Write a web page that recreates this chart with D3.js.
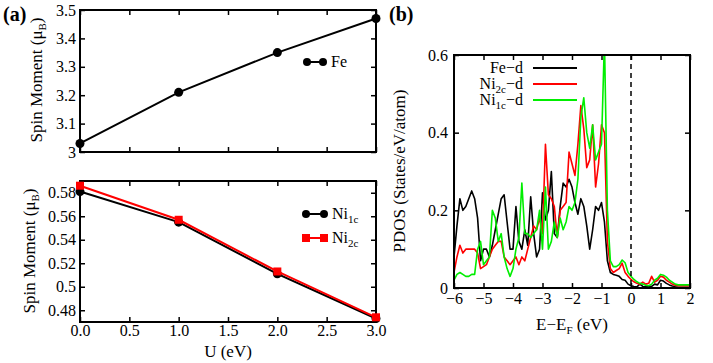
<!DOCTYPE html>
<html>
<head>
<meta charset="utf-8">
<script src="https://cdn.jsdelivr.net/npm/d3@7"></script>
<style>
  body { margin: 0; background: #fff; }
  svg text { font-family: "Liberation Serif", serif; fill: #000; }
  .tick line { stroke: #000; stroke-width: 1.5; }
</style>
</head>
<body>
<script>
// ---- panel (a) data ----
var uValues = [0, 1, 2, 3];
var feMoment = [3.03, 3.21, 3.35, 3.47];
var ni1cMoment = [0.581, 0.555, 0.511, 0.473];
var ni2cMoment = [0.586, 0.557, 0.513, 0.474];

var uTicks = [0, 0.5, 1, 1.5, 2, 2.5, 3];
var feTicks = [3, 3.1, 3.2, 3.3, 3.4, 3.5];
var niTicks = [0.48, 0.5, 0.52, 0.54, 0.56, 0.58];

// ---- panel (b) data ----
var energy = [
  -6.0, -5.9, -5.8, -5.7, -5.6, -5.5, -5.4, -5.3, -5.2, -5.1,
  -5.0, -4.9, -4.8, -4.7, -4.6, -4.5, -4.4, -4.3, -4.2, -4.1,
  -4.0, -3.9, -3.8, -3.7, -3.6, -3.5, -3.4, -3.3, -3.2, -3.1,
  -3.0, -2.9, -2.8, -2.7, -2.6, -2.5, -2.4, -2.3, -2.2, -2.1,
  -2.0, -1.9, -1.8, -1.7, -1.6, -1.5, -1.4, -1.3, -1.2, -1.1,
  -1.0, -0.9, -0.8, -0.7, -0.6, -0.5, -0.4, -0.3, -0.2, -0.1,
  0.0, 0.1, 0.2, 0.3, 0.4, 0.5, 0.6, 0.7, 0.8, 0.9,
  1.0, 1.1, 1.2, 1.3, 1.4, 1.5, 1.6, 1.7, 1.8, 1.9, 2.0
];
var feD = [
  0.08, 0.16, 0.23, 0.20, 0.21, 0.23, 0.25, 0.23, 0.18, 0.07,
  0.10, 0.10, 0.08, 0.11, 0.15, 0.19, 0.23, 0.24, 0.17, 0.10,
  0.10, 0.21, 0.12, 0.10, 0.15, 0.11, 0.235, 0.14, 0.08, 0.10,
  0.245, 0.175, 0.20, 0.30, 0.14, 0.13, 0.21, 0.27, 0.26, 0.28,
  0.26, 0.22, 0.19, 0.23, 0.21, 0.16, 0.10, 0.15, 0.21, 0.20,
  0.22, 0.17, 0.07, 0.04, 0.035, 0.033, 0.03, 0.022, 0.02, 0.01,
  0.006, 0.004, 0.003, 0.01, 0.004, 0.003, 0.005, 0.004, 0.01, 0.008,
  0.02, 0.018, 0.012, 0.008, 0.005, 0.003, 0.002, 0.002, 0.002, 0.002, 0.002
];
var ni2cD = [
  0.04, 0.08, 0.11, 0.09, 0.10, 0.10, 0.10, 0.10, 0.09, 0.05,
  0.055, 0.06, 0.08, 0.10, 0.11, 0.12, 0.12, 0.08, 0.07, 0.06,
  0.07, 0.08, 0.06, 0.08, 0.07, 0.10, 0.13, 0.16, 0.15, 0.18,
  0.14, 0.37, 0.24, 0.23, 0.21, 0.13, 0.20, 0.21, 0.22, 0.35,
  0.32, 0.29, 0.37, 0.47, 0.41, 0.31, 0.33, 0.42, 0.26, 0.32,
  0.42, 0.40, 0.12, 0.05, 0.04, 0.045, 0.05, 0.064, 0.04, 0.03,
  0.022, 0.016, 0.012, 0.01, 0.015, 0.01, 0.012, 0.03, 0.015, 0.02,
  0.03, 0.028, 0.02, 0.015, 0.01, 0.007, 0.006, 0.006, 0.006, 0.006, 0.006
];
var ni1cD = [
  0.02, 0.035, 0.04, 0.035, 0.03, 0.03, 0.035, 0.035, 0.10, 0.12,
  0.06, 0.07, 0.08, 0.20, 0.18, 0.12, 0.14, 0.08, 0.05, 0.03,
  0.05, 0.10, 0.13, 0.27, 0.14, 0.14, 0.13, 0.14, 0.15, 0.20,
  0.10, 0.26, 0.10, 0.12, 0.17, 0.13, 0.18, 0.15, 0.17, 0.21,
  0.20, 0.22, 0.28, 0.44, 0.49, 0.40, 0.36, 0.42, 0.33, 0.35,
  0.37, 0.64, 0.20, 0.07, 0.055, 0.055, 0.06, 0.072, 0.065, 0.04,
  0.03, 0.022, 0.016, 0.012, 0.01, 0.007, 0.006, 0.01, 0.02, 0.025,
  0.035, 0.033, 0.028, 0.02, 0.015, 0.01, 0.008, 0.008, 0.008, 0.008, 0.008
];
var eTicks = [-6, -5, -4, -3, -2, -1, 0, 1, 2];
var pdosTicks = [0, 0.2, 0.4, 0.6];

var SERIF = '"Liberation Serif", serif';

var svg = d3.select('body').append('svg')
  .attr('width', 713).attr('height', 363)
  .style('font-family', SERIF);

// draws four inward-tick axes and a frame around a panel
function drawFrame(g, x, y, xTicks, yTicks, xLabels, yPad, xPad) {
  var x0 = x.range()[0], x1 = x.range()[1];
  var y0 = y.range()[0], y1 = y.range()[1];
  var bottom = d3.axisBottom(x).tickValues(xTicks).tickSize(-5).tickPadding(xPad);
  if (!xLabels) bottom.tickFormat('');
  g.append('g').attr('transform', 'translate(0,' + y0 + ')').call(bottom);
  g.append('g').attr('transform', 'translate(0,' + y1 + ')')
    .call(d3.axisTop(x).tickValues(xTicks).tickSize(-5).tickFormat(''));
  g.append('g').attr('transform', 'translate(' + x0 + ',0)')
    .call(d3.axisLeft(y).tickValues(yTicks).tickSize(-5).tickPadding(yPad).tickFormat(d3.format('')));
  g.append('g').attr('transform', 'translate(' + x1 + ',0)')
    .call(d3.axisRight(y).tickValues(yTicks).tickSize(-5).tickFormat(''));
  g.selectAll('.domain').remove();
  g.selectAll('g').attr('font-size', 16).style('font-family', SERIF);
  g.selectAll('.tick text').style('font-family', SERIF);
  g.append('rect')
    .attr('x', x0).attr('y', y1).attr('width', x1 - x0).attr('height', y0 - y1)
    .attr('fill', 'none').attr('stroke', '#000').attr('stroke-width', 2);
}

function yTitle(cx, cy, main, sub) {
  var t = svg.append('text')
    .attr('transform', 'translate(' + cx + ',' + cy + ') rotate(-90)')
    .attr('text-anchor', 'middle').attr('font-size', 17);
  t.append('tspan').text(main);
  if (sub) {
    t.append('tspan').attr('dy', 4).attr('font-size', 11).text(sub);
    t.append('tspan').attr('dy', -4).text(')');
  }
  return t;
}

// ---------- panel (a), top ----------
var xA = d3.scaleLinear().domain([0, 3]).range([80, 376]);
var yFe = d3.scaleLinear().domain([3, 3.5]).range([152, 10]);
var gFe = svg.append('g');
drawFrame(gFe, xA, yFe, uTicks, feTicks, false, 4, 3);

gFe.append('path')
  .datum(uValues.map(function(u, i) { return [u, feMoment[i]]; }))
  .attr('fill', 'none').attr('stroke', '#000').attr('stroke-width', 2)
  .attr('d', d3.line().x(function(d) { return xA(d[0]); }).y(function(d) { return yFe(d[1]); }));
gFe.selectAll('circle.fe')
  .data(uValues)
  .enter().append('circle')
  .attr('cx', function(d) { return xA(d); })
  .attr('cy', function(d, i) { return yFe(feMoment[i]); })
  .attr('r', 4.5).attr('fill', '#000');

yTitle(42, 80, 'Spin Moment (\u03bc', 'B');

// legend
var lg1 = svg.append('g');
lg1.append('line').attr('x1', 307).attr('x2', 323).attr('y1', 62).attr('y2', 62)
  .attr('stroke', '#000').attr('stroke-width', 2);
lg1.selectAll('circle').data([307, 323]).enter().append('circle')
  .attr('cx', function(d) { return d; }).attr('cy', 62).attr('r', 4).attr('fill', '#000');
lg1.append('text').attr('x', 331).attr('y', 67).attr('font-size', 16).text('Fe');

// ---------- panel (a), bottom ----------
var yNi = d3.scaleLinear().domain([0.47, 0.59]).range([322, 181]);
var gNi = svg.append('g');
drawFrame(gNi, xA, yNi, uTicks, niTicks, true, 4, 3);

var niLine = d3.line().x(function(d) { return xA(d[0]); }).y(function(d) { return yNi(d[1]); });
gNi.append('path')
  .datum(uValues.map(function(u, i) { return [u, ni1cMoment[i]]; }))
  .attr('fill', 'none').attr('stroke', '#000').attr('stroke-width', 2).attr('d', niLine);
gNi.selectAll('circle.ni1c')
  .data(uValues)
  .enter().append('circle')
  .attr('cx', function(d) { return xA(d); })
  .attr('cy', function(d, i) { return yNi(ni1cMoment[i]); })
  .attr('r', 4.5).attr('fill', '#000');
gNi.append('path')
  .datum(uValues.map(function(u, i) { return [u, ni2cMoment[i]]; }))
  .attr('fill', 'none').attr('stroke', '#ff0000').attr('stroke-width', 2).attr('d', niLine);
gNi.selectAll('rect.ni2c')
  .data(uValues)
  .enter().append('rect')
  .attr('x', function(d) { return xA(d) - 4; })
  .attr('y', function(d, i) { return yNi(ni2cMoment[i]) - 4; })
  .attr('width', 8).attr('height', 8).attr('fill', '#ff0000');

yTitle(35, 251, 'Spin Moment (\u03bc', 'B');
svg.append('text').attr('x', 228).attr('y', 357).attr('text-anchor', 'middle')
  .attr('font-size', 17).text('U (eV)');

// legend
var lg2 = svg.append('g');
lg2.append('line').attr('x1', 306).attr('x2', 324).attr('y1', 214).attr('y2', 214)
  .attr('stroke', '#000').attr('stroke-width', 2);
lg2.selectAll('circle').data([306, 324]).enter().append('circle')
  .attr('cx', function(d) { return d; }).attr('cy', 214).attr('r', 4).attr('fill', '#000');
lg2.append('line').attr('x1', 306).attr('x2', 324).attr('y1', 238).attr('y2', 238)
  .attr('stroke', '#ff0000').attr('stroke-width', 2);
lg2.selectAll('rect').data([306, 324]).enter().append('rect')
  .attr('x', function(d) { return d - 4; }).attr('y', 234).attr('width', 8).attr('height', 8)
  .attr('fill', '#ff0000');
[['1c', 219], ['2c', 243]].forEach(function(s) {
  var t = lg2.append('text').attr('x', 332).attr('y', s[1]).attr('font-size', 16);
  t.append('tspan').text('Ni');
  t.append('tspan').attr('dy', 4).attr('font-size', 11).text(s[0]);
});

// ---------- panel (b) ----------
var xB = d3.scaleLinear().domain([-6, 2]).range([454, 690]);
var yB = d3.scaleLinear().domain([0, 0.6]).range([288, 55]);
var gB = svg.append('g');
gB.append('clipPath').attr('id', 'clipB').append('rect')
  .attr('x', 454).attr('y', 55).attr('width', 236).attr('height', 233);

var pdos = [
  { name: 'Fe', sub: '', values: feD, color: '#000000' },
  { name: 'Ni', sub: '2c', values: ni2cD, color: '#ff0000' },
  { name: 'Ni', sub: '1c', values: ni1cD, color: '#00ee00' }
];
var pdosLine = d3.line()
  .x(function(d, i) { return xB(energy[i]); })
  .y(function(d) { return yB(d); });
gB.append('g').attr('clip-path', 'url(#clipB)')
  .selectAll('path')
  .data(pdos)
  .enter().append('path')
  .attr('fill', 'none')
  .attr('stroke', function(d) { return d.color; })
  .attr('stroke-width', 1.6)
  .attr('stroke-linejoin', 'round')
  .attr('d', function(d) { return pdosLine(d.values); });

gB.append('line')
  .attr('x1', xB(0)).attr('x2', xB(0)).attr('y1', yB(0.6)).attr('y2', yB(0))
  .attr('stroke', '#000').attr('stroke-width', 1.5).attr('stroke-dasharray', '5,4');

drawFrame(gB, xB, yB, eTicks, pdosTicks, true, 6, 5);

// legend
var lgB = gB.selectAll('g.leg').data(pdos).enter().append('g')
  .attr('transform', function(d, i) { return 'translate(0,' + (68 + i * 16) + ')'; });
lgB.append('line').attr('x1', 533).attr('x2', 577).attr('y1', 0).attr('y2', 0)
  .attr('stroke', function(d) { return d.color; }).attr('stroke-width', 2);
lgB.each(function(d) {
  var t = d3.select(this).append('text').attr('x', 523).attr('y', 5)
    .attr('text-anchor', 'end').attr('font-size', 16);
  t.append('tspan').text(d.name);
  if (d.sub) t.append('tspan').attr('dy', 4).attr('font-size', 11).text(d.sub);
  t.append('tspan').attr('dy', d.sub ? -4 : 0).text('\u2212d');
});

yTitle(405, 171, 'PDOS (States/eV/atom)');
var xt = svg.append('text').attr('x', 572).attr('y', 330).attr('text-anchor', 'middle')
  .attr('font-size', 17);
xt.append('tspan').text('E\u2212E');
xt.append('tspan').attr('dy', 4).attr('font-size', 11).text('F');
xt.append('tspan').attr('dy', -4).text(' (eV)');

// panel labels
svg.append('text').attr('x', 3).attr('y', 21).attr('font-size', 20).attr('font-weight', 'bold').text('(a)');
svg.append('text').attr('x', 389).attr('y', 21).attr('font-size', 20).attr('font-weight', 'bold').text('(b)');
</script>
</body>
</html>
